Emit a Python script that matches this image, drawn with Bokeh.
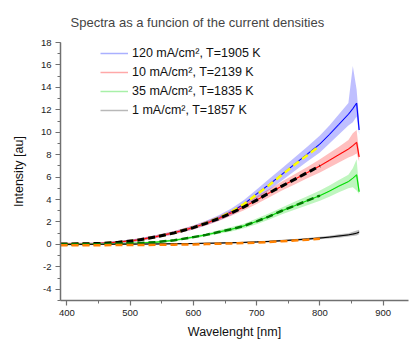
from bokeh.plotting import figure
from bokeh.models import SingleIntervalTicker, Legend, LegendItem, CustomJSTickFormatter, Title
from bokeh.embed import file_html
from bokeh.resources import INLINE

# ---- data ----
wl_data = [390, 420, 450, 480, 510, 540, 570, 600, 620, 640, 660, 680, 700, 720, 740, 760, 780, 800, 815, 830, 845, 852, 858, 862]

blue_c = [0.05, 0.06, 0.08, 0.2, 0.38, 0.68, 1.05, 1.5, 1.9, 2.35, 2.9, 3.6, 4.5, 5.35, 6.25, 7.15, 8.05, 8.95, 9.8, 10.7, 11.6, 12.1, 12.6, 10.2]
blue_hi = [0.15, 0.15, 0.18, 0.3, 0.5, 0.82, 1.2, 1.68, 2.1, 2.6, 3.2, 3.95, 4.9, 5.85, 6.8, 7.75, 8.7, 9.7, 10.6, 11.6, 12.6, 15.9, 13.8, 11.0]
blue_lo = [-0.05, -0.03, -0.02, 0.1, 0.26, 0.55, 0.9, 1.32, 1.7, 2.1, 2.6, 3.25, 4.1, 4.85, 5.7, 6.55, 7.4, 8.2, 9.0, 9.8, 10.6, 10.9, 11.4, 9.8]

red_c = [0.05, 0.06, 0.08, 0.2, 0.38, 0.68, 1.05, 1.5, 1.88, 2.3, 2.8, 3.35, 3.95, 4.6, 5.2, 5.8, 6.4, 7.0, 7.5, 8.0, 8.5, 8.8, 9.1, 7.8]
red_hi = [0.15, 0.15, 0.18, 0.3, 0.5, 0.82, 1.2, 1.68, 2.08, 2.52, 3.05, 3.65, 4.3, 4.95, 5.6, 6.25, 6.9, 7.6, 8.15, 8.7, 9.3, 9.9, 10.2, 8.2]
red_lo = [-0.05, -0.03, -0.02, 0.1, 0.26, 0.55, 0.9, 1.32, 1.68, 2.08, 2.55, 3.05, 3.6, 4.2, 4.8, 5.35, 5.9, 6.4, 6.85, 7.3, 7.75, 7.9, 8.1, 7.4]

green_c = [0.0, 0.01, 0.03, 0.06, 0.11, 0.19, 0.37, 0.65, 0.85, 1.1, 1.35, 1.65, 2.05, 2.5, 3.0, 3.45, 3.9, 4.35, 4.75, 5.2, 5.6, 5.9, 6.2, 4.7]
green_hi = [0.08, 0.08, 0.1, 0.13, 0.18, 0.28, 0.46, 0.78, 0.98, 1.26, 1.55, 1.85, 2.3, 2.78, 3.3, 3.8, 4.3, 4.8, 5.25, 5.75, 6.2, 6.8, 7.6, 5.0]
green_lo = [-0.08, -0.06, -0.04, -0.01, 0.04, 0.1, 0.28, 0.52, 0.72, 0.94, 1.15, 1.45, 1.8, 2.22, 2.7, 3.1, 3.5, 3.9, 4.25, 4.65, 5.0, 5.1, 4.8, 4.5]

black_c = [0.0, 0.0, 0.01, 0.02, 0.03, 0.04, 0.06, 0.08, 0.1, 0.12, 0.15, 0.18, 0.22, 0.27, 0.33, 0.4, 0.48, 0.57, 0.65, 0.75, 0.85, 0.92, 1.0, 1.1]
black_hi = [0.05, 0.05, 0.06, 0.07, 0.08, 0.09, 0.11, 0.13, 0.15, 0.17, 0.2, 0.24, 0.28, 0.34, 0.41, 0.49, 0.58, 0.68, 0.78, 0.9, 1.0, 1.12, 1.25, 1.3]
black_lo = [-0.05, -0.05, -0.04, -0.03, -0.02, -0.01, 0.01, 0.03, 0.05, 0.07, 0.1, 0.12, 0.16, 0.2, 0.25, 0.31, 0.38, 0.46, 0.52, 0.6, 0.7, 0.75, 0.8, 0.9]

wl_fit = [390, 420, 450, 480, 510, 540, 570, 600, 620, 640, 660, 680, 700, 720, 740, 760, 780, 800]
fit_1905 = [0.03, 0.05, 0.08, 0.18, 0.36, 0.66, 1.03, 1.5, 1.9, 2.35, 2.9, 3.6, 4.45, 5.3, 6.2, 7.1, 7.95, 8.8]
fit_2139 = [0.03, 0.05, 0.08, 0.18, 0.36, 0.66, 1.03, 1.5, 1.88, 2.3, 2.8, 3.35, 3.95, 4.6, 5.2, 5.8, 6.4, 7.0]
fit_1835 = [0.0, 0.01, 0.03, 0.06, 0.11, 0.19, 0.37, 0.65, 0.85, 1.1, 1.35, 1.65, 2.05, 2.5, 3.0, 3.45, 3.9, 4.35]
fit_1857 = [-0.08, -0.08, -0.07, -0.06, -0.05, -0.04, -0.02, 0.0, 0.03, 0.06, 0.09, 0.12, 0.16, 0.22, 0.28, 0.35, 0.42, 0.5]

labels = ["120 mA/cm\u00b2, T=1905 K", "10 mA/cm\u00b2, T=2139 K",
          "35 mA/cm\u00b2, T=1835 K", "1 mA/cm\u00b2, T=1857 K"]

FONT = "Liberation Sans"

p = figure(width=412, height=342, x_range=(390, 940), y_range=(-5, 18),
           output_backend="svg", toolbar_location=None, title_location=None,
           min_border_left=60, min_border_right=4, min_border_top=42, min_border_bottom=42)
p.outline_line_color = None
p.xgrid.visible = False
p.ygrid.visible = False
p.background_fill_color = "white"
p.border_fill_color = "white"

# empty spacer nearest the plot area, then the title above it
p.add_layout(Title(text=" ", text_font_size="5px", standoff=0), "above")
p.add_layout(Title(text="Spectra as a funcion of the current densities",
                   text_font=FONT, text_font_size="13px", text_font_style="normal",
                   offset=10), "above")

series = [
    (blue_c, blue_lo, blue_hi, "#0000ff", "#aab0ff"),
    (red_c, red_lo, red_hi, "#ff0000", "#ffa8a8"),
    (green_c, green_lo, green_hi, "#00dd00", "#a8f0a8"),
    (black_c, black_lo, black_hi, "#000000", "#b8b8b8"),
]
items = []
for (c, lo, hi, col, pale), lab in zip(series, labels):
    legend_r = p.line(wl_data, c, line_color=pale, line_width=1.5)
    p.varea(x=wl_data, y1=lo, y2=hi, fill_color=col, fill_alpha=0.25)
    p.line(wl_data, c, line_color=col, line_width=1)
    items.append(LegendItem(label=lab, renderers=[legend_r]))

p.line(wl_fit, fit_1905, line_color="#ffff00", line_width=2.5, line_dash="7 4")
p.line(wl_fit, fit_2139, line_color="#000000", line_width=3, line_dash="7 4")
p.line(wl_fit, fit_1835, line_color="#007a00", line_width=2.5, line_dash="7 4")
p.line(wl_fit, fit_1857, line_color="#ff8000", line_width=2.5, line_dash="7 4")

legend = Legend(items=items, location=(40, 183), border_line_color=None,
                background_fill_alpha=0, padding=0, margin=0, spacing=5,
                glyph_width=28, glyph_height=14, label_height=14, label_standoff=4,
                label_text_font=FONT, label_text_font_size="12.5px", label_text_color="#111111")
p.add_layout(legend, "center")

for ax in (p.xaxis[0], p.yaxis[0]):
    ax.axis_line_color = "#707070"
    ax.axis_line_width = 1.5
    ax.major_tick_line_color = "#707070"
    ax.minor_tick_line_color = "#707070"
    ax.major_tick_line_width = 1.2
    ax.minor_tick_line_width = 1
    ax.major_tick_out = 5
    ax.major_tick_in = 0
    ax.minor_tick_out = 3
    ax.minor_tick_in = 0
    ax.major_label_text_font = FONT
    ax.major_label_text_font_size = "9.5px"
    ax.major_label_text_color = "#222222"
    ax.axis_label_text_font = FONT
    ax.axis_label_text_font_size = "12.5px"
    ax.axis_label_text_font_style = "normal"
    ax.axis_label_text_color = "#111111"

p.xaxis[0].ticker = SingleIntervalTicker(interval=100, num_minor_ticks=2)
p.yaxis[0].ticker = SingleIntervalTicker(interval=2, num_minor_ticks=2)
p.yaxis[0].formatter = CustomJSTickFormatter(code="return tick.toString();")
p.xaxis[0].axis_label = "Wavelenght [nm]"
p.yaxis[0].axis_label = "Intensity [au]"
p.xaxis[0].major_label_standoff = 4
p.xaxis[0].axis_label_standoff = 6
p.yaxis[0].major_label_standoff = 4
p.yaxis[0].axis_label_standoff = 12

open("out.html", "w").write(file_html(p, INLINE))
